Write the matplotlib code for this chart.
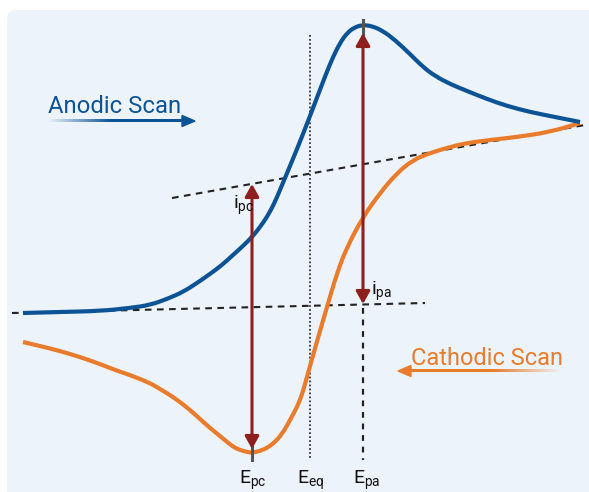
import numpy as np
import matplotlib
matplotlib.use("Agg")
import matplotlib.pyplot as plt
from matplotlib.patches import FancyBboxPatch, FancyArrowPatch, Polygon, PathPatch
from matplotlib.path import Path

plt.rcParams['font.family'] = ['Roboto', 'DejaVu Sans']
plt.rcParams['mathtext.default'] = 'regular'

# ---- data (pixel space: x right, y down) ----
anodic_x = [23, 60, 100, 130, 150, 167, 183, 197, 210, 222, 233, 243, 253, 260, 267, 274,
            280, 285, 290, 297, 303, 310, 318, 326, 333, 340, 347, 355, 363, 372, 383, 395,
            410, 423, 435, 450, 467, 487, 507, 530, 555, 580]
anodic_y = [313, 312, 311, 308, 305, 299, 292, 283, 274, 265, 255, 246, 236, 227, 217, 204,
            190, 178, 166, 149, 134, 116, 95, 74, 57, 43, 33, 27, 25, 26, 31, 40,
            54, 67, 76, 84, 91, 99, 106, 112, 117, 122]

cathodic_x = [580, 550, 517, 490, 467, 450, 430, 413, 397, 380, 363, 347, 337, 327, 322, 316,
              308, 304, 300, 296, 290, 284, 277, 270, 263, 252, 243, 235, 227, 220, 210, 200,
              190, 180, 170, 160, 150, 130, 115, 100, 80, 60, 40, 23]
cathodic_y = [123, 132, 137, 140, 143, 147, 153, 160, 173, 193, 217, 247, 273, 307, 324, 345,
              373, 388, 400, 409, 420, 431, 440, 446, 450, 453, 451, 448, 442, 436, 428, 419,
              410, 402, 395, 389, 383, 375, 370, 364, 357, 351, 346, 342]

lower_base_x = [12, 425]
lower_base_y = [313, 303]
upper_base_x = [172, 585]
upper_base_y = [198, 125]

E_pc, E_eq, E_pa = 252, 310, 363
i_pc_top, i_pc_bottom = 184, 449
i_pa_top, i_pa_bottom = 33, 304

potential_labels = [r'$E_{pc}$', r'$E_{eq}$', r'$E_{pa}$']
potential_label_x = [239, 297, 353]

BLUE = '#0B5394'
ORANGE = '#E97B2C'
RED = '#8E1F1F'
PANEL = '#EDF3FB'

W, H = 589, 492
fig = plt.figure(figsize=(W / 100, H / 100), dpi=100)
ax = fig.add_axes([0, 0, 1, 1])
ax.set_xlim(0, W)
ax.set_ylim(H, 0)
ax.axis('off')
fig.patch.set_facecolor('white')

panel = FancyBboxPatch((7, 10), W + 20, H + 20, boxstyle='round,pad=0,rounding_size=9',
                       facecolor=PANEL, edgecolor='none', zorder=0)
ax.add_patch(panel)


def smooth_path(xs, ys):
    """Quadratic-Bezier path using the read points as control points."""
    pts = np.column_stack([xs, ys]).astype(float)
    verts = [pts[0], (pts[0] + pts[1]) / 2.0]
    codes = [Path.MOVETO, Path.LINETO]
    for i in range(1, len(pts) - 1):
        end = (pts[i] + pts[i + 1]) / 2.0 if i < len(pts) - 2 else pts[-1]
        verts.extend([pts[i], end])
        codes.extend([Path.CURVE3, Path.CURVE3])
    return Path(verts, codes)


# baselines and guides
ax.plot(lower_base_x, lower_base_y, color='#222222', lw=1.5, ls=(0, (3.2, 2.6)), zorder=2)
ax.plot(upper_base_x, upper_base_y, color='#222222', lw=1.5, ls=(0, (3.2, 2.6)), zorder=2)
ax.plot([E_eq, E_eq], [35, 460], color='#333333', lw=1.3, ls=(0, (1, 1.2)), zorder=2)
ax.plot([E_pa, E_pa], [308, 460], color='#222222', lw=1.6, ls=(0, (2.6, 2.6)), zorder=2)

# curves
ax.add_patch(PathPatch(smooth_path(cathodic_x, cathodic_y), facecolor='none', edgecolor=ORANGE,
                       lw=3.0, capstyle='butt', joinstyle='round', zorder=3))
ax.add_patch(PathPatch(smooth_path(anodic_x, anodic_y), facecolor='none', edgecolor=BLUE,
                       lw=3.0, capstyle='butt', joinstyle='round', zorder=4))

# grey ticks at peaks
ax.plot([E_pc, E_pc], [447, 460], color='#555555', lw=2.2, zorder=5)
ax.plot([E_pa, E_pa], [20, 34], color='#555555', lw=2.2, zorder=5)

# peak current arrows
for x, y0, y1 in [(E_pc, i_pc_top, i_pc_bottom), (E_pa, i_pa_top, i_pa_bottom)]:
    arr = FancyArrowPatch((x, y0), (x, y1), arrowstyle='<|-|>,head_length=0.75,head_width=0.42',
                          mutation_scale=10, color=RED, lw=2.2, shrinkA=0, shrinkB=0, zorder=6)
    ax.add_patch(arr)

# labels
ax.text(233, 209, r'$i_{pc}$', fontsize=14, color='#111111', ha='left', va='baseline', zorder=7)
ax.text(371, 295, r'$i_{pa}$', fontsize=14, color='#111111', ha='left', va='baseline', zorder=7)
for lab, lx in zip(potential_labels, potential_label_x):
    ax.text(lx, 484, lab, fontsize=14, color='#111111', ha='left', va='baseline', zorder=7)

# scan direction annotations
ax.text(48, 113, 'Anodic Scan', fontsize=17.2, color=BLUE, ha='left', va='baseline', zorder=7)
ax.text(411, 365, 'Cathodic Scan', fontsize=17, color=ORANGE, ha='left', va='baseline', zorder=7)


def gradient_arrow(x_start, x_end, y, color, fade_left):
    t = np.linspace(0, 1, 256)
    if not fade_left:
        t = t[::-1]
    alpha = np.clip(t * 2.2, 0, 1)
    rgba = np.zeros((1, 256, 4))
    rgba[0, :, :3] = matplotlib.colors.to_rgb(color)
    rgba[0, :, 3] = alpha
    ax.imshow(rgba, extent=(x_start, x_end, y + 1.4, y - 1.4), aspect='auto',
              interpolation='bilinear', zorder=6)


gradient_arrow(48, 185, 121, BLUE, fade_left=True)
ax.add_patch(Polygon([[182, 115.5], [195, 121], [182, 126.5]], closed=True, color=BLUE, zorder=6))
gradient_arrow(410, 562, 371, ORANGE, fade_left=False)
ax.add_patch(Polygon([[411, 365.5], [398, 371], [411, 376.5]], closed=True, color=ORANGE, zorder=6))

ax.set_xlim(0, W)
ax.set_ylim(H, 0)
fig.savefig('out.png', dpi=100)
